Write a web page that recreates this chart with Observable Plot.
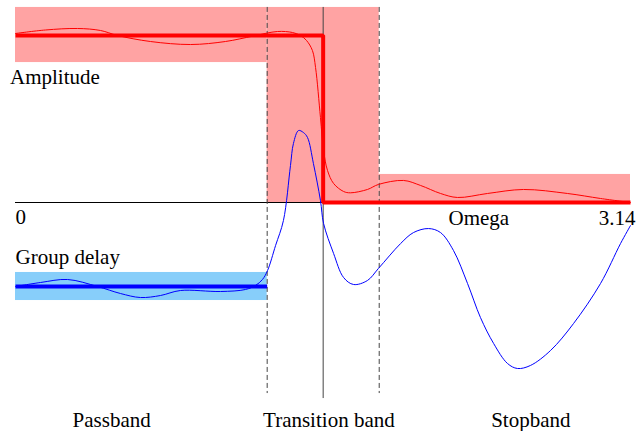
<!DOCTYPE html>
<html>
<head>
<meta charset="utf-8">
<script src="https://cdn.jsdelivr.net/npm/d3@7"></script>
<script src="https://cdn.jsdelivr.net/npm/@observablehq/plot@0.6"></script>
<style>
  html, body { margin: 0; padding: 0; background: #fff; }
  #chart svg { display: block; }
  #chart svg text { font-family: "Liberation Serif", "DejaVu Serif", serif; }
</style>
</head>
<body>
<div id="chart"></div>
<script>
// ---- band edges (omega, radians) ----
const omegaMax = 3.14;
const passbandEdge = 1.285;
const cutoff = 1.5708;
const stopbandEdge = 1.857;

// ---- tolerance levels (amplitude units) ----
const passTol = [0.838, 1.168];
const stopTol = [0, 0.168];
const delayLevel = -0.503;
const delayTol = [-0.587, -0.419];
const guideBottom = [-1.144, -1.174, -1.144]; // dashed, solid, dashed

// ---- actual amplitude response (thin red) ----
const ampOmega = [0, 0.153, 0.317, 0.434, 0.521, 0.689, 0.894, 1.072, 1.215, 1.338, 1.414, 1.455, 1.486, 1.516, 1.532, 1.557, 1.573, 1.593, 1.624, 1.675, 1.710, 1.797, 1.853, 1.981, 2.068, 2.170, 2.257, 2.410, 2.594, 2.818, 2.987, 3.14];
const ampValue = [1.012, 1.033, 1.042, 1.030, 1.000, 0.964, 0.946, 0.964, 0.997, 1.024, 1.018, 1.000, 0.970, 0.910, 0.808, 0.509, 0.311, 0.192, 0.114, 0.066, 0.058, 0.078, 0.108, 0.132, 0.102, 0.054, 0.030, 0.054, 0.078, 0.054, 0.024, 0.0];

// ---- actual group delay (thin blue) ----
const delayOmega = [0, 0.128, 0.266, 0.419, 0.536, 0.638, 0.740, 0.842, 1.047, 1.174, 1.225, 1.261, 1.287, 1.328, 1.368, 1.404, 1.419, 1.445, 1.470, 1.491, 1.521, 1.557, 1.573, 1.624, 1.675, 1.726, 1.797, 1.853, 1.966, 2.032, 2.109, 2.170, 2.236, 2.308, 2.374, 2.441, 2.512, 2.563, 2.629, 2.732, 2.849, 2.987, 3.089, 3.14];
const delayValue = [-0.503, -0.479, -0.461, -0.503, -0.545, -0.569, -0.557, -0.527, -0.533, -0.521, -0.497, -0.461, -0.407, -0.257, -0.108, 0.222, 0.353, 0.431, 0.419, 0.389, 0.234, 0.012, -0.126, -0.305, -0.449, -0.491, -0.467, -0.395, -0.246, -0.180, -0.156, -0.180, -0.287, -0.485, -0.689, -0.844, -0.964, -0.994, -0.976, -0.886, -0.725, -0.485, -0.246, -0.138];

// ---- labels ----
const axisLabelText = ["Amplitude", "0", "Omega", "3.14", "Group delay"];
const axisLabelOmega = [-0.028, 0, 2.211, 2.978, 0];
const axisLabelLevel = [0.707, -0.126, -0.132, -0.132, -0.371];
const bandLabelText = ["Passband", "Transition band", "Stopband"];
const bandLabelOmega = [0.491, 1.600, 2.631];
const bandLabelLevel = -1.347;

// ---- derived tables ----
const redBands = [
  {x1: 0, x2: passbandEdge, y1: passTol[0], y2: passTol[1]},
  {x1: passbandEdge, x2: stopbandEdge, y1: 0, y2: passTol[1]},
  {x1: stopbandEdge, x2: omegaMax, y1: stopTol[0], y2: stopTol[1]}
];
const blueBands = [{x1: 0, x2: passbandEdge, y1: delayTol[0], y2: delayTol[1]}];
const idealAmp = [[0, 1], [cutoff, 1], [cutoff, 0], [omegaMax, 0]];
const idealDelay = [[0, delayLevel], [passbandEdge, delayLevel]];
const amp = ampOmega.map((x, i) => ({x, y: ampValue[i]}));
const delay = delayOmega.map((x, i) => ({x, y: delayValue[i]}));
const guides = [passbandEdge, cutoff, stopbandEdge].map((x, i) => ({x, y1: passTol[1], y2: guideBottom[i], dashed: i !== 1}));
const axisLabels = axisLabelText.map((t, i) => ({t, x: axisLabelOmega[i], y: axisLabelLevel[i]}));
const bandLabels = bandLabelText.map((t, i) => ({t, x: bandLabelOmega[i], y: bandLabelLevel}));

const font = "Liberation Serif, DejaVu Serif, serif";

const chart = Plot.plot({
  width: 636,
  height: 431,
  margin: 0,
  style: {background: "#fff", overflow: "visible"},
  x: {domain: [0, omegaMax], range: [15, 630], axis: null},
  y: {domain: [0, 1], range: [202, 35], axis: null},
  marks: [
    Plot.rect(redBands, {x1: "x1", x2: "x2", y1: "y1", y2: "y2", fill: "#ffa3a3"}),
    Plot.rect(blueBands, {x1: "x1", x2: "x2", y1: "y1", y2: "y2", fill: "#87cefa"}),
    Plot.ruleY([0], {x1: 0, x2: omegaMax, stroke: "#000", strokeWidth: 1}),
    Plot.ruleX(guides.filter(d => d.dashed), {x: "x", y1: "y1", y2: "y2", stroke: "#444", strokeWidth: 1, strokeDasharray: "5,3"}),
    Plot.ruleX(guides.filter(d => !d.dashed), {x: "x", y1: "y1", y2: "y2", stroke: "#444", strokeWidth: 1}),
    Plot.line(amp, {x: "x", y: "y", stroke: "#ff0000", strokeWidth: 1, curve: "catmull-rom"}),
    Plot.line(idealAmp, {x: d => d[0], y: d => d[1], stroke: "#ff0000", strokeWidth: 4, strokeLinejoin: "miter", strokeLinecap: "butt"}),
    Plot.line(idealDelay, {x: d => d[0], y: d => d[1], stroke: "#0000ff", strokeWidth: 4, strokeLinecap: "butt"}),
    Plot.line(delay, {x: "x", y: "y", stroke: "#0000ff", strokeWidth: 1, curve: "catmull-rom"}),
    Plot.text(axisLabels, {x: "x", y: "y", text: "t", textAnchor: "start", lineAnchor: "bottom", fontSize: 21, fontFamily: font, fill: "#000"}),
    Plot.text(bandLabels, {x: "x", y: "y", text: "t", textAnchor: "middle", lineAnchor: "bottom", fontSize: 21, fontFamily: font, fill: "#000"})
  ]
});
document.getElementById("chart").appendChild(chart);
</script>
</body>
</html>
